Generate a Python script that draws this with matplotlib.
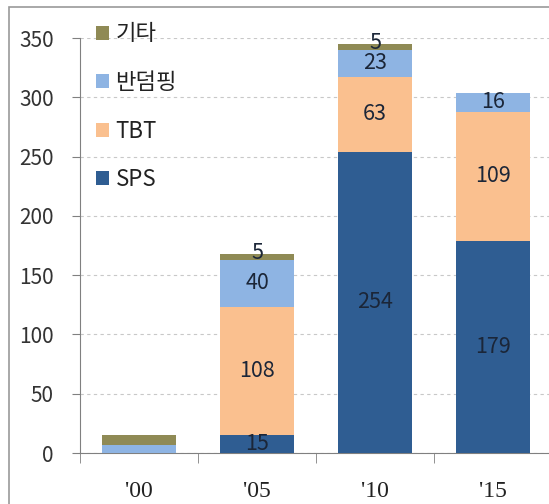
import matplotlib
matplotlib.use("Agg")
import matplotlib.pyplot as plt
from matplotlib.patches import Rectangle, Patch
import numpy as np

plt.rcParams['font.family'] = ['Noto Sans CJK KR', 'DejaVu Sans']

categories = ["'00", "'05", "'10", "'15"]
series_names = ["SPS", "TBT", "반덤핑", "기타"]
sps = [0, 15, 254, 179]
tbt = [0, 108, 63, 109]
antidumping = [7, 40, 23, 16]
other = [8, 5, 5, 0]
show_labels = [False, True, True, True]

colors = ["#2F5D92", "#FAC08F", "#8EB4E3", "#8F8A55"]
values = [sps, tbt, antidumping, other]
label_offsets = [0, 0, 0, 3]

fig = plt.figure(figsize=(5.49, 5.04), dpi=100)
ax = fig.add_axes([80/549, 51/504, 472/549, 415/504])

x = np.arange(len(categories))
bottom = np.zeros(len(categories))
handles = []
for name, vals, c, off in zip(series_names, values, colors, label_offsets):
    vals = np.array(vals, dtype=float)
    ax.bar(x, vals, width=0.63, bottom=bottom, color=c, zorder=3)
    for i, v in enumerate(vals):
        if show_labels[i] and v > 0:
            ax.text(x[i], bottom[i] + v / 2 + off, f"{int(v)}", ha='center', va='center',
                    fontsize=15.5, color='#1B2638', zorder=4)
    bottom += vals
    handles.append(Patch(facecolor=c, edgecolor='none', label=name))

ax.set_xlim(-0.5, 3.5)
ax.set_ylim(0, 350)
ax.set_yticks(np.arange(0, 351, 50))
ax.yaxis.grid(True, linestyle=(0, (3, 3)), color='#C8C8C8', linewidth=0.8, zorder=0)
ax.set_xticks(x)
ax.set_xticklabels(categories, fontsize=17, fontfamily='Liberation Serif', color='#222222')
ax.set_xticks(np.arange(-0.5, 3.6, 1), minor=True)
ax.tick_params(axis='x', which='major', length=0, pad=20)
ax.tick_params(axis='x', which='minor', length=7, color='#808080', direction='out')
ax.tick_params(axis='y', length=6, color='#808080', labelsize=15, labelcolor='#333333', pad=13)
for s in ['top', 'right']:
    ax.spines[s].set_visible(False)
for s in ['left', 'bottom']:
    ax.spines[s].set_color('#808080')

leg = ax.legend(handles=handles[::-1], loc='upper left', bbox_to_anchor=(0.0, 1.075),
                frameon=False, fontsize=16, handlelength=0.6, handleheight=0.6,
                labelspacing=1.15, handletextpad=0.3, borderaxespad=0.3)
for t in leg.get_texts():
    t.set_color('#222222')

fig.patches.append(Rectangle((9/549, -0.1), 1.2, 1.1 - 7/504, transform=fig.transFigure,
                             fill=False, edgecolor='#999999', linewidth=1.2))

fig.savefig("out.png", dpi=100)
